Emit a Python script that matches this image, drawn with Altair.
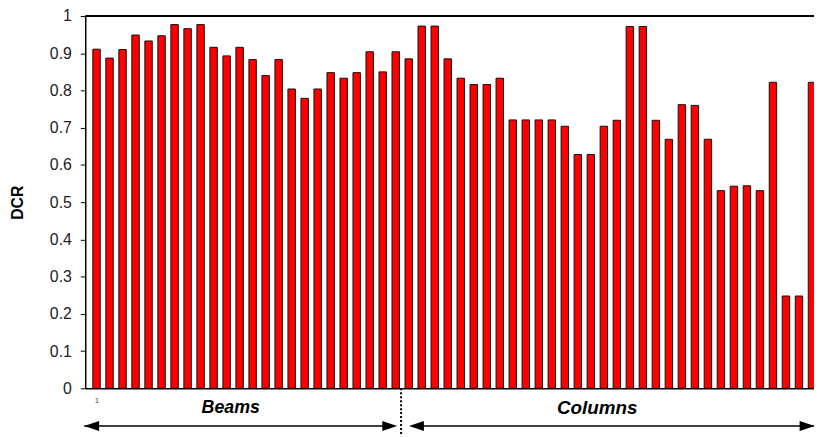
import altair as alt
import pandas as pd

# ---- data ----
member = list(range(1, 57))
dcr = [0.911, 0.887, 0.910, 0.949, 0.933, 0.947, 0.977, 0.966, 0.977, 0.916,
       0.893, 0.916, 0.883, 0.840, 0.883, 0.804, 0.779, 0.804, 0.848, 0.833,
       0.848, 0.904, 0.850, 0.904,
       0.885, 0.973, 0.973, 0.885, 0.833, 0.816, 0.816, 0.833, 0.721, 0.721,
       0.721, 0.721, 0.704, 0.628, 0.628, 0.704, 0.720, 0.972, 0.972, 0.720,
       0.669, 0.762, 0.760, 0.669, 0.531, 0.543, 0.544, 0.531, 0.822, 0.248,
       0.248, 0.822]
groups = ["Beams", "Columns"]
y_ticks = [0, 0.1, 0.2, 0.3, 0.4, 0.5, 0.6, 0.7, 0.8, 0.9, 1]
x_ticks = [1]

df = pd.DataFrame({"member": member, "dcr": dcr})
one = pd.DataFrame({"k": [0]})

W, H = 736, 376
FONT = "Liberation Sans, Arial, sans-serif"

x_scale = alt.Scale(domain=[0.512, 55.776], nice=False, zero=False)
y_scale = alt.Scale(domain=[0, 1], nice=False)

bars = alt.Chart(df).mark_bar(
    size=7.5, fill="#ff0000", stroke="#111111", strokeWidth=1, clip=True
).encode(
    x=alt.X("member:Q", scale=x_scale,
            axis=alt.Axis(values=x_ticks, ticks=False, domain=True,
                          domainColor="#000000", domainWidth=1.5,
                          labelFontSize=8, labelColor="#555555", labelPadding=8,
                          labelFont=FONT, grid=False, title=None)),
    y=alt.Y("dcr:Q", scale=y_scale,
            axis=alt.Axis(values=y_ticks, tickCount=11, format="~g", grid=False,
                          labelOverlap=False,
                          domainColor="#000000", domainWidth=1.5,
                          tickColor="#000000", tickSize=5, tickWidth=1,
                          labelFont=FONT, labelFontSize=16, labelColor="#222222",
                          labelPadding=9,
                          title="DCR", titleFont=FONT, titleFontSize=16,
                          titleFontWeight="bold", titleColor="#000000",
                          titleX=-68, titleY=H / 2, titleAngle=270,
                          titleAlign="center", titleBaseline="middle")),
)

top_line = alt.Chart(one).mark_rule(color="#000000", strokeWidth=2).encode(
    x=alt.value(0), x2=alt.value(W), y=alt.value(0)
)

arrow_y = 414
arrow_lines = [
    alt.Chart(one).mark_rule(color="#000000", strokeWidth=1.5).encode(
        x=alt.value(-1), x2=alt.value(310), y=alt.value(arrow_y)),
    alt.Chart(one).mark_rule(color="#000000", strokeWidth=1.5).encode(
        x=alt.value(332), x2=alt.value(740), y=alt.value(arrow_y)),
]

left_head = "M -1 0 L 1 -0.67 L 1 0.67 Z"
right_head = "M 1 0 L -1 -0.67 L -1 0.67 Z"
HS = 225
heads = [
    alt.Chart(one).mark_point(shape=left_head, filled=True, size=HS,
                              color="#000000", opacity=1).encode(
        x=alt.value(6.5), y=alt.value(arrow_y)),
    alt.Chart(one).mark_point(shape=right_head, filled=True, size=HS,
                              color="#000000", opacity=1).encode(
        x=alt.value(307.5), y=alt.value(arrow_y)),
    alt.Chart(one).mark_point(shape=left_head, filled=True, size=HS,
                              color="#000000", opacity=1).encode(
        x=alt.value(334.5), y=alt.value(arrow_y)),
    alt.Chart(one).mark_point(shape=right_head, filled=True, size=HS,
                              color="#000000", opacity=1).encode(
        x=alt.value(729), y=alt.value(arrow_y)),
]

divider = alt.Chart(one).mark_rule(color="#000000", strokeWidth=2,
                                   strokeDash=[2, 2]).encode(
    x=alt.value(319), y=alt.value(H), y2=alt.value(H + 47))

labels = [
    alt.Chart(one).mark_text(font=FONT, fontSize=18, fontWeight="bold",
                             fontStyle="italic", align="center",
                             baseline="middle", color="#000000").encode(
        x=alt.value(147), y=alt.value(396), text=alt.value(groups[0])),
    alt.Chart(one).mark_text(font=FONT, fontSize=19, fontWeight="bold",
                             fontStyle="italic", align="center",
                             baseline="middle", color="#000000").encode(
        x=alt.value(517), y=alt.value(396), text=alt.value(groups[1])),
]

chart = alt.layer(
    bars, top_line, *arrow_lines, *heads, divider, *labels
).properties(
    width=W, height=H,
    padding={"left": 78, "top": 6, "right": 0, "bottom": 45},
    autosize=alt.AutoSizeParams(type="none"),
    background="white",
).configure_view(stroke=None)

chart.save("out.html", embed_options={"renderer": "svg", "actions": False})
